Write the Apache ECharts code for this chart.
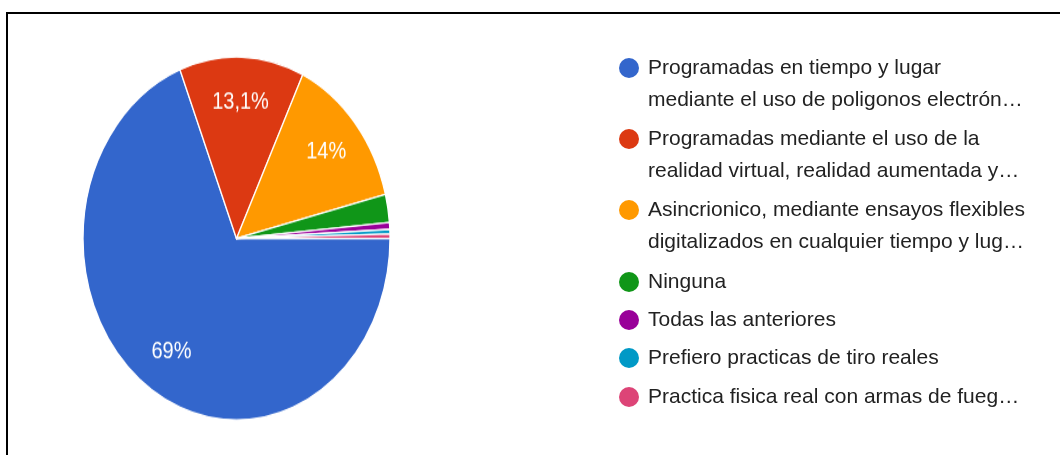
<!DOCTYPE html>
<html>
<head>
<meta charset="utf-8">
<script src="https://cdn.jsdelivr.net/npm/echarts@6/dist/echarts.min.js"></script>
<style>
  html, body { margin: 0; padding: 0; background: #fff; }
  #wrap { position: relative; width: 1060px; height: 455px; overflow: hidden; }
  #legendChart { position: absolute; left: 0; top: 0; width: 1060px; height: 455px; }
  /* the pie in the source is stretched vertically, so scale its box */
  #pieChart { position: absolute; left: 0; top: 0; width: 473px; height: 385px;
              transform-origin: 0 0; transform: scaleY(1.1824); }
</style>
</head>
<body>
<div id="wrap">
  <div id="legendChart"></div>
  <div id="pieChart"></div>
</div>
<script>
// answers (legend text as shown, truncated like the original)
const names = [
  'Programadas en tiempo y lugar\nmediante el uso de poligonos electrón…',
  'Programadas mediante el uso de la\nrealidad virtual, realidad aumentada y…',
  'Asincrionico, mediante ensayos flexibles\ndigitalizados en cualquier tiempo y lug…',
  'Ninguna',
  'Todas las anteriores',
  'Prefiero practicas de tiro reales',
  'Practica fisica real con armas de fueg…'
];
// percentages
const values = [69, 13.1, 14, 2.5, 0.6, 0.4, 0.4];
const colors = ['#3366cc', '#dc3912', '#ff9900', '#109618', '#990099', '#0099c6', '#dd4477'];

const font = '"Liberation Sans", Arial, sans-serif';
const iconY = [68, 139, 210, 282, 320, 358, 397];
const lineH = 32;

const pieData = names.map((n, i) => ({ name: n, value: values[i], itemStyle: { color: colors[i] } }));

// ---- legend + frame ----
const legendChart = echarts.init(document.getElementById('legendChart'));
legendChart.setOption({
  backgroundColor: '#fff',
  animation: false,
  legend: names.map((n, i) => {
    const twoLines = n.indexOf('\n') >= 0;
    return {
      orient: 'vertical',
      left: 619,
      top: iconY[i] - (twoLines ? lineH * 1.5 : lineH / 2),
      padding: 0,
      itemWidth: 28,
      itemHeight: 20,
      icon: 'circle',
      selectedMode: false,
      data: [n],
      // blank first line so the icon sits beside the first text line
      formatter: name => twoLines ? ' \n' + name : name,
      textStyle: {
        fontFamily: font,
        fontSize: 21,
        color: '#222',
        lineHeight: lineH
      }
    };
  }),
  graphic: [{
    type: 'polyline',
    shape: { points: [[7, 455], [7, 13], [1060, 13]] },
    style: { stroke: '#000', lineWidth: 2, fill: null }
  }],
  series: [{
    type: 'pie',
    radius: [0, 0],
    center: [-100, -100],
    silent: true,
    label: { show: false },
    labelLine: { show: false },
    data: pieData
  }]
});

// ---- pie ----
const pieChart = echarts.init(document.getElementById('pieChart'));
pieChart.setOption({
  animation: false,
  series: [
    {
      type: 'pie',
      center: [236.5, 201.7],
      radius: [0, 153.5],
      startAngle: 0,
      clockwise: true,
      silent: true,
      label: { show: false },
      labelLine: { show: false },
      itemStyle: { borderColor: '#fff', borderWidth: 1.3 },
      data: pieData
    },
    {
      // transparent copy only used to put the percent labels further out
      type: 'pie',
      center: [236.5, 201.7],
      radius: [72, 153.5],
      startAngle: 0,
      clockwise: true,
      silent: true,
      itemStyle: { color: 'transparent', borderWidth: 0 },
      labelLine: { show: false },
      label: {
        show: true,
        position: 'inside',
        color: '#fff',
        fontFamily: font,
        fontSize: 20,
        formatter: p => p.value >= 5 ? String(p.value).replace('.', ',') + '%' : ''
      },
      data: names.map((n, i) => ({ name: n, value: values[i] }))
    }
  ]
});
</script>
</body>
</html>
